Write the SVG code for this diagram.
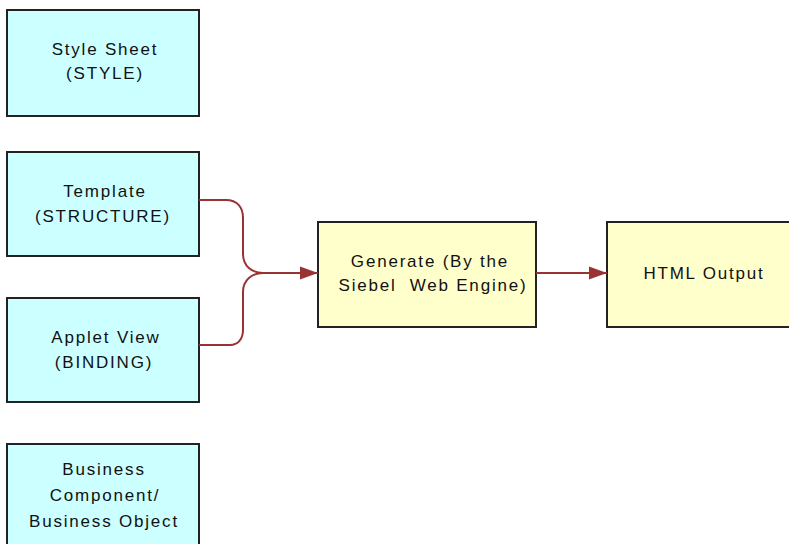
<svg xmlns="http://www.w3.org/2000/svg" width="789" height="544" viewBox="0 0 789 544">
<style>
.box{stroke:#222;stroke-width:2}
.src{fill:#CCFFFF}
.proc{fill:#FFFFCC}
.t{font-family:"Liberation Sans",Arial,sans-serif;font-size:17px;letter-spacing:1.8px;fill:#111;text-anchor:middle}
.c{fill:none;stroke:#993333;stroke-width:2}
</style>
<defs>
<marker id="ah" markerUnits="userSpaceOnUse" markerWidth="18" markerHeight="14" refX="18" refY="7" orient="auto">
<path d="M0,0.5 L18,7 L0,13.5 z" fill="#993333"/>
</marker>
</defs>
<rect width="789" height="544" fill="#fff"/>
<g id="style-sheet">
<rect class="box src" x="7" y="10" width="192" height="106"/>
<text class="t" x="105" y="55">Style Sheet</text>
<text class="t" x="105" y="79">(STYLE)</text>
</g>
<g id="template">
<rect class="box src" x="7" y="152" width="192" height="104"/>
<text class="t" x="105" y="197">Template</text>
<text class="t" x="103" y="222">(STRUCTURE)</text>
</g>
<g id="applet-view">
<rect class="box src" x="7" y="298" width="192" height="104"/>
<text class="t" x="106" y="343">Applet View</text>
<text class="t" x="104" y="368">(BINDING)</text>
</g>
<g id="business">
<rect class="box src" x="7" y="444" width="192" height="120"/>
<text class="t" x="104" y="475">Business</text>
<text class="t" x="105" y="501">Component/</text>
<text class="t" x="104" y="527">Business Object</text>
</g>
<g id="generate">
<rect class="box proc" x="318" y="222" width="218" height="105"/>
<text class="t" x="430" y="267">Generate (By the</text>
<text class="t" x="433" y="291">Siebel&#160; Web Engine)</text>
</g>
<g id="html-output">
<rect class="box proc" x="607" y="222" width="200" height="105"/>
<text class="t" x="704" y="279">HTML Output</text>
</g>
<g id="connectors">
<path class="c" d="M199,200 H226 C237,200 243,207 243,218 V254 C243,266 252,273 263,273"/>
<path class="c" d="M199,345 H230 C238,345 243,339 243,330 V292 C243,280 252,273 263,273"/>
<path class="c" d="M262,273 H318" marker-end="url(#ah)"/>
<path class="c" d="M536,273 H607" marker-end="url(#ah)"/>
</g>
</svg>
